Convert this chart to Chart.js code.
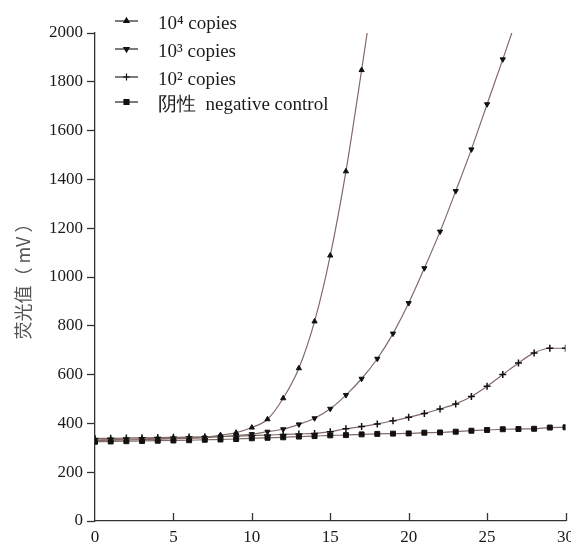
<!DOCTYPE html>
<html><head><meta charset="utf-8">
<script src="https://cdn.jsdelivr.net/npm/chart.js@4/dist/chart.umd.min.js"></script>
<style>html,body{margin:0;padding:0;background:#fff}#wrap{width:571px;height:548px}</style>
</head><body><div id="wrap"><canvas id="c" width="571" height="548"></canvas></div>
<script>
const cycles = [0,1,2,3,4,5,6,7,8,9,10,11,12,13,14,15,16,17,18,19,20,21,22,23,24,25,26,27,28,29,30];
const copies1e4 = [332,334,335,337,338,340,341,343,352,362,383,417,503,626,818,1088,1433,1848,2280];
const copies1e3 = [330,331,332,334,335,337,339,342,346,350,356,366,376,396,421,460,516,583,665,768,893,1036,1186,1352,1523,1708,1892,2080];
const copies1e2 = [338,339,340,341,342,343,344,345,346,348,350,352,355,357,359,366,378,387,398,411,425,441,459,480,510,552,600,648,689,708,708];
const negative  = [325,326,327,328,329,330,331,333,334,336,339,341,343,346,348,351,352,355,357,358,359,362,363,366,370,373,376,377,378,383,384];
const seriesNames = ['10\u2074 copies','10\u00b3 copies','10\u00b2 copies','\u9634\u6027  negative control'];
const yTicks = [0,200,400,600,800,1000,1200,1400,1600,1800,2000];
const xTicks = [0,5,10,15,20,25,30];
const yTitle = '\u8367\u5149\u503c\uff08 mV \uff09';

const lineColor = '#826b67';
const styles = [
  {pointStyle:'triangle', rotation:0, radius:3},
  {pointStyle:'triangle', rotation:180, radius:3},
  {pointStyle:'cross', rotation:0, radius:3.5},
  {pointStyle:'rect', rotation:0, radius:3.5}
];
const allSeries = [copies1e4, copies1e3, copies1e2, negative];
const datasets = allSeries.map((vals,i)=>({
  label: seriesNames[i],
  data: vals.map((v,k)=>({x:cycles[k], y:v})),
  borderColor: lineColor,
  borderWidth: 1.2,
  pointStyle: styles[i].pointStyle,
  rotation: styles[i].rotation,
  pointRadius: styles[i].radius,
  pointBackgroundColor: '#111',
  pointBorderColor: '#111',
  pointBorderWidth: i===2 ? 1.5 : 1,
  cubicInterpolationMode: 'monotone',
  fill: false
}));

const serif = '"Liberation Serif", "DejaVu Serif", serif';

const legendPlugin = {
  id:'customLegend',
  afterDraw(chart){
    const ctx = chart.ctx;
    const rowsText = [24, 52, 80, 105];
    ctx.save();
    datasets.forEach((ds,i)=>{
      const y = rowsText[i] - 3;
      ctx.strokeStyle = '#222';
      ctx.lineWidth = 1.2;
      ctx.beginPath(); ctx.moveTo(115,y); ctx.lineTo(138,y); ctx.stroke();
      ctx.fillStyle = '#111'; ctx.strokeStyle = '#111';
      Chart.helpers.drawPoint(ctx, {pointStyle: ds.pointStyle, rotation: ds.rotation, radius: ds.pointRadius, borderWidth:1}, 126.5, y);
      ctx.fillStyle = '#1a1a1a';
      ctx.font = '19px ' + serif;
      ctx.textBaseline = 'middle';
      ctx.textAlign = 'left';
      ctx.fillText(ds.label, 158, rowsText[i]);
    });
    ctx.restore();
  }
};

const inwardTicks = {
  id:'inwardTicks',
  afterDraw(chart){
    const ctx = chart.ctx, xs = chart.scales.x, ca = chart.chartArea;
    ctx.save();
    ctx.strokeStyle = '#333'; ctx.lineWidth = 1.3;
    xTicks.forEach(t=>{
      if (t===0) return;
      const px = Math.round(xs.getPixelForValue(t))+0.5;
      ctx.beginPath(); ctx.moveTo(px, ca.bottom); ctx.lineTo(px, ca.bottom-8); ctx.stroke();
    });
    ctx.restore();
  }
};

Chart.defaults.font.family = serif;
const ctxEl = document.getElementById('c');
new Chart(ctxEl, {
  type:'line',
  data:{datasets},
  options:{
    responsive:false,
    animation:false,
    devicePixelRatio:1,
    layout:{padding:{top:33,right:4,left:0,bottom:0}},
    plugins:{legend:{display:false}, tooltip:{enabled:false}},
    scales:{
      x:{
        type:'linear', min:0, max:30,
        afterBuildTicks(s){ s.ticks = xTicks.map(v=>({value:v})); },
        afterFit(s){ s.height = 27; s.paddingLeft = 0; s.paddingRight = 0; },
        grid:{display:true, drawOnChartArea:false, drawTicks:false},
        border:{display:true, color:'#333', width:1.3},
        ticks:{color:'#1a1a1a', font:{size:17, family:serif}, padding:6, maxRotation:0, autoSkip:false, callback:v=>String(v)}
      },
      y:{
        type:'linear', min:0, max:2000,
        afterBuildTicks(s){ s.ticks = yTicks.map(v=>({value:v})); },
        afterFit(s){ s.width = 95; },
        grid:{display:true, drawOnChartArea:false, drawTicks:true, tickLength:8, color:'#333', tickWidth:1.3},
        border:{display:true, color:'#333', width:1.3},
        ticks:{color:'#1a1a1a', font:{size:17, family:serif}, padding:4, autoSkip:false, callback:v=>String(v)},
        title:{display:true, text:yTitle, color:'#555', font:{size:18, family:'"Noto Sans CJK SC", sans-serif'}, padding:{top:12,bottom:0}}
      }
    }
  },
  plugins:[legendPlugin, inwardTicks]
});
</script></body></html>
